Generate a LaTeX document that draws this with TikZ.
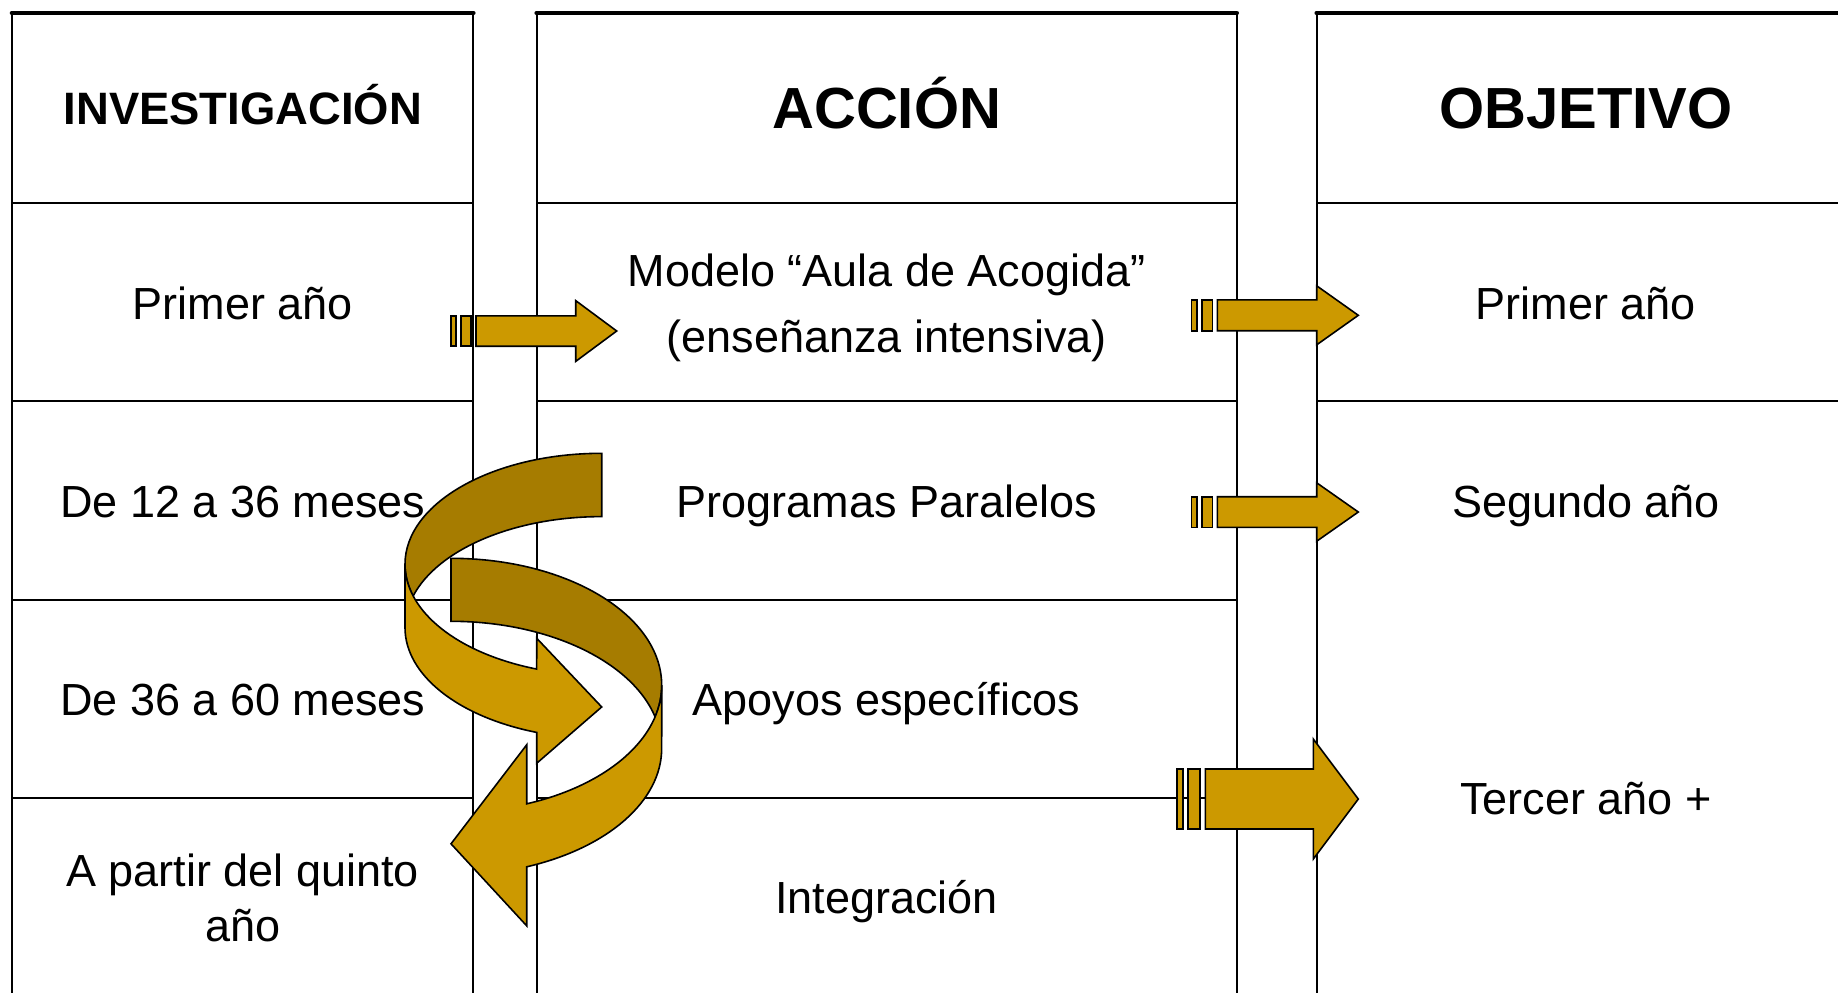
\documentclass[tikz,border=0pt]{standalone}
\usepackage{fontspec}
\setmainfont{Liberation Sans}
\definecolor{arrowgold}{RGB}{204,153,0}
\definecolor{arrowdark}{RGB}{166,124,0}

\begin{document}
\begin{tikzpicture}[x=0.5pt,y=-0.5pt,
    txt/.style={font=\fontsize{22.5}{27.5}\selectfont,align=center,inner sep=0pt},
    oneline/.style={txt,text height=16.1pt,text depth=0pt},
    head/.style={font=\bfseries\fontsize{29}{35}\selectfont,text height=20.8pt,text depth=0pt,inner sep=0pt},
    rule/.style={line width=1pt},
    topline/.style={line width=2.3pt,line cap=round},
    goldface/.style={fill=arrowgold,draw=black,line width=0.8pt},
    goldback/.style={fill=arrowdark,draw=black,line width=0.8pt}]
\useasboundingbox (0,0) rectangle (1838,993);

% table
\foreach \xa/\xb in {12/473.3,536.7/1236.7}{
    \draw[rule] (\xa,13) -- (\xa,993);
    \draw[rule] (\xb,13) -- (\xb,993);
    \foreach \y in {203,401,599.5,797.5}
        \draw[rule] (\xa,\y) -- (\xb,\y);
    \draw[topline] (\xa,13) -- (\xb,13);
}
\draw[rule] (1316.7,13) -- (1316.7,993);
\foreach \y in {203,401}
    \draw[rule] (1316.7,\y) -- (1838,\y);
\draw[topline] (1316.7,13) -- (1838,13);

\node[head,font=\bfseries\fontsize{22.7}{27}\selectfont,text height=16.3pt] (inv) at (242.7,108) {INVESTIGACIÓN};
\node[head] (acc) at (886.7,108) {ACCIÓN};
\node[head] (obj) at (1586,108) {OBJETIVO};

\node[oneline] (inv1) at (242.7,303) {Primer año};
\node[oneline] (inv2) at (242.7,501) {De 12 a 36 meses};
\node[oneline] (inv3) at (242.7,699.5) {De 36 a 60 meses};
\node[txt] (inv4) at (242.7,897.8) {A partir del quinto\\año};

\node[txt,font=\fontsize{22.5}{32.8}\selectfont] (acc1) at (886.7,308.1) {Modelo “Aula de Acogida”\\(enseñanza intensiva)};
\node[oneline] (acc2) at (886.7,501) {Programas Paralelos};
\node[oneline] (acc3) at (886.7,699.5) {Apoyos específicos};
\node[oneline] (acc4) at (886.7,897) {Integración};

\node[oneline] (obj1) at (1586,303) {Primer año};
\node[oneline] (obj2) at (1586,501) {Segundo año};
\node[oneline] (obj3) at (1586,798) {Tercer año +};

% curved arrow going right
\draw[goldback] (405,564.3) arc[start angle=180,end angle=270,x radius=196.7,y radius=111]
    -- (601.7,516.6) arc[start angle=270,end angle=196.57,x radius=196.7,y radius=111]
    arc[start angle=163.43,end angle=180,x radius=196.7,y radius=111] -- cycle;
\draw[goldface] (405,564.3) arc[start angle=180,end angle=109.3,x radius=196.7,y radius=111]
    -- (536.7,638.25) -- (601.7,706.95) -- (536.7,763.25) -- (536.7,732.4)
    arc[start angle=109.3,end angle=180,x radius=196.7,y radius=111] -- cycle;

% curved arrow going left
\draw[goldback] (661.7,685.3) arc[start angle=0,end angle=-90,x radius=210.7,y radius=127]
    -- (451,621.3) arc[start angle=-90,end angle=-14.36,x radius=210.7,y radius=127]
    arc[start angle=14.36,end angle=0,x radius=210.7,y radius=127] -- cycle;
\draw[goldface] (661.7,685.3) arc[start angle=0,end angle=68.94,x radius=210.7,y radius=127]
    -- (526.7,744.8) -- (451,843.8) -- (526.7,925.8) -- (526.7,866.8)
    arc[start angle=68.94,end angle=0,x radius=210.7,y radius=127] -- cycle;

% striped arrows
\foreach \s/\c/\bh/\hh/\wa/\wb/\g/\hb/\tp in {451/331/15.2/30.4/5/10/5/575.7/616.7,
        1191.3/315.3/15.4/29.5/5.4/10.7/5/1316.7/1358.3,
        1191.3/512/15.3/29.2/5.4/10.7/5/1316.7/1358.3,
        1176.7/799/30/60/6/12/5.3/1313.3/1358.3}{
    \draw[goldface] (\s,{\c-\bh}) rectangle ({\s+\wa},{\c+\bh});
    \draw[goldface] ({\s+\wa+\g},{\c-\bh}) rectangle ({\s+\wa+\g+\wb},{\c+\bh});
    \draw[goldface] ({\s+\wa+2*\g+\wb},{\c-\bh}) -- (\hb,{\c-\bh}) -- (\hb,{\c-\hh}) -- (\tp,\c)
        -- (\hb,{\c+\hh}) -- (\hb,{\c+\bh}) -- ({\s+\wa+2*\g+\wb},{\c+\bh}) -- cycle;
}
\end{tikzpicture}
\end{document}
